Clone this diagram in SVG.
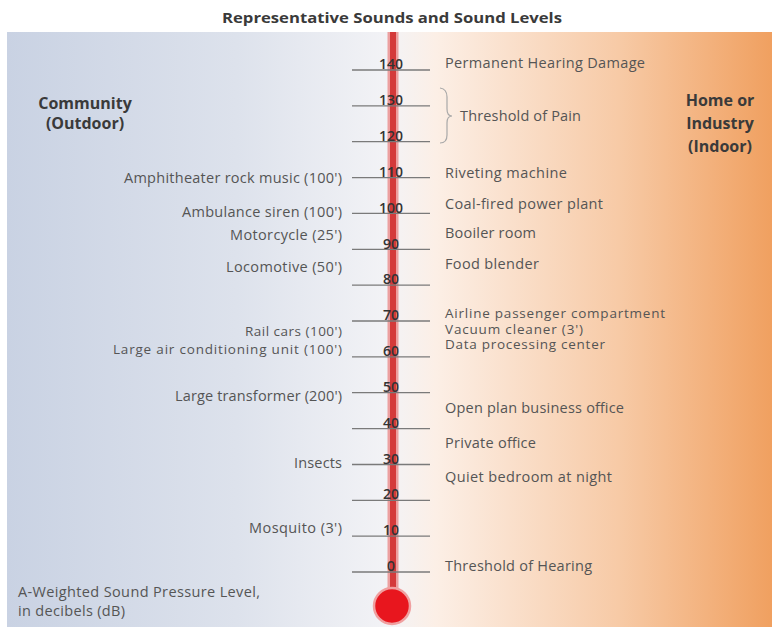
<svg xmlns="http://www.w3.org/2000/svg" width="777" height="635" viewBox="0 0 777 635">
<defs>
<linearGradient id="bg" x1="7" y1="0" x2="772" y2="0" gradientUnits="userSpaceOnUse">
<stop offset="0" stop-color="#c9d2e3"/>
<stop offset="0.3" stop-color="#dde2ec"/>
<stop offset="0.5" stop-color="#f3f3f6"/>
<stop offset="0.56" stop-color="#fcefe6"/>
<stop offset="0.8" stop-color="#f7caa6"/>
<stop offset="1" stop-color="#f0a060"/>
</linearGradient>
<style>
.lbl{font-family:"Open Sans","Liberation Sans",sans-serif;font-size:14.5px;fill:#555}
.sm{font-size:13.5px}
.l{text-anchor:end}
.num{font-family:"Open Sans","Liberation Sans",sans-serif;font-size:14px;font-weight:600;fill:#333;text-anchor:middle}
.hd{font-family:"Open Sans","Liberation Sans",sans-serif;font-size:16px;font-weight:bold;fill:#3a3a3a;text-anchor:middle}
.tick{stroke:#7a7a7a;stroke-width:1.3}
</style>
</defs>
<rect x="0" y="0" width="777" height="635" fill="#ffffff"/>
<rect id="panel" x="7" y="32" width="765" height="595" fill="url(#bg)"/>
<text id="title" x="392" y="23" class="hd" style="font-size:15px" textLength="340" lengthAdjust="spacingAndGlyphs">Representative Sounds and Sound Levels</text>
<g id="headings">
<text class="hd" x="85" y="109">Community</text>
<text class="hd" x="85" y="129">(Outdoor)</text>
<text class="hd" x="720" y="106">Home or</text>
<text class="hd" x="720" y="129">Industry</text>
<text class="hd" x="720" y="152">(Indoor)</text>
</g>
<g id="thermometer">
<line x1="393" y1="32" x2="393" y2="595" stroke="#eca0a0" stroke-width="11"/>
<line x1="393" y1="32" x2="393" y2="595" stroke="#d43a3a" stroke-width="6"/>
<circle cx="392" cy="606" r="18" fill="#e8161e" stroke="#f0a0a0" stroke-width="2.5"/>
</g>
<g id="connectors">
<line class="tick" x1="352" y1="70" x2="430" y2="70"/>
<line class="tick" x1="352" y1="105.9" x2="430" y2="105.9"/>
<line class="tick" x1="352" y1="141.7" x2="430" y2="141.7"/>
<line class="tick" x1="352" y1="177.6" x2="430" y2="177.6"/>
<line class="tick" x1="352" y1="213.4" x2="430" y2="213.4"/>
<line class="tick" x1="352" y1="249.3" x2="430" y2="249.3"/>
<line class="tick" x1="352" y1="285.2" x2="430" y2="285.2"/>
<line class="tick" x1="352" y1="321" x2="430" y2="321"/>
<line class="tick" x1="352" y1="356.9" x2="430" y2="356.9"/>
<line class="tick" x1="352" y1="392.7" x2="430" y2="392.7"/>
<line class="tick" x1="352" y1="428.6" x2="430" y2="428.6"/>
<line class="tick" x1="352" y1="464.5" x2="430" y2="464.5"/>
<line class="tick" x1="352" y1="500.3" x2="430" y2="500.3"/>
<line class="tick" x1="352" y1="536.2" x2="430" y2="536.2"/>
<line class="tick" x1="352" y1="572" x2="430" y2="572"/>
<path d="M440 88 Q447 89 447 97 L447 109 Q447 116 452 116 Q447 116 447 123 L447 135 Q447 143 440 143" fill="none" stroke="#a8a8a8" stroke-width="1.2"/>
</g>
<g id="scale">
<text class="num" x="391" y="69">140</text>
<text class="num" x="391" y="105">130</text>
<text class="num" x="391" y="141">120</text>
<text class="num" x="391" y="176.5">110</text>
<text class="num" x="391" y="212.5">100</text>
<text class="num" x="391" y="248.5">90</text>
<text class="num" x="391" y="284">80</text>
<text class="num" x="391" y="320">70</text>
<text class="num" x="391" y="356">60</text>
<text class="num" x="391" y="391.5">50</text>
<text class="num" x="391" y="427.5">40</text>
<text class="num" x="391" y="463.5">30</text>
<text class="num" x="391" y="499">20</text>
<text class="num" x="391" y="535">10</text>
<text class="num" x="391" y="571">0</text>
</g>
<g id="outdoor">
<text class="lbl l" x="342" y="183" textLength="218">Amphitheater rock music (100')</text>
<text class="lbl l" x="342" y="217" textLength="160">Ambulance siren (100')</text>
<text class="lbl l" x="342" y="240" textLength="112">Motorcycle (25')</text>
<text class="lbl l" x="342" y="272" textLength="116">Locomotive (50')</text>
<text class="lbl l sm" x="342" y="336" textLength="97">Rail cars (100')</text>
<text class="lbl l sm" x="342" y="354" textLength="229">Large air conditioning unit (100')</text>
<text class="lbl l" x="342" y="401" textLength="167">Large transformer (200')</text>
<text class="lbl l" x="342" y="468" textLength="48">Insects</text>
<text class="lbl l" x="342" y="533" textLength="93">Mosquito (3')</text>
</g>
<g id="indoor">
<text class="lbl" x="445" y="68" textLength="200">Permanent Hearing Damage</text>
<text class="lbl" x="460" y="121" textLength="121">Threshold of Pain</text>
<text class="lbl" x="445" y="178" textLength="122">Riveting machine</text>
<text class="lbl" x="445" y="209" textLength="158">Coal-fired power plant</text>
<text class="lbl" x="445" y="238" textLength="91">Booiler room</text>
<text class="lbl" x="445" y="269" textLength="94">Food blender</text>
<text class="lbl sm" x="445" y="318" textLength="220">Airline passenger compartment</text>
<text class="lbl sm" x="445" y="334" textLength="138">Vacuum cleaner (3')</text>
<text class="lbl sm" x="445" y="349" textLength="160">Data processing center</text>
<text class="lbl" x="445" y="413" textLength="179">Open plan business office</text>
<text class="lbl" x="445" y="448" textLength="91">Private office</text>
<text class="lbl" x="445" y="482" textLength="167">Quiet bedroom at night</text>
<text class="lbl" x="445" y="571" textLength="147">Threshold of Hearing</text>
</g>
<g id="axis-label">
<text class="lbl" x="18" y="597" textLength="242">A-Weighted Sound Pressure Level,</text>
<text class="lbl" x="18" y="616" textLength="107">in decibels (dB)</text>
</g>
</svg>
